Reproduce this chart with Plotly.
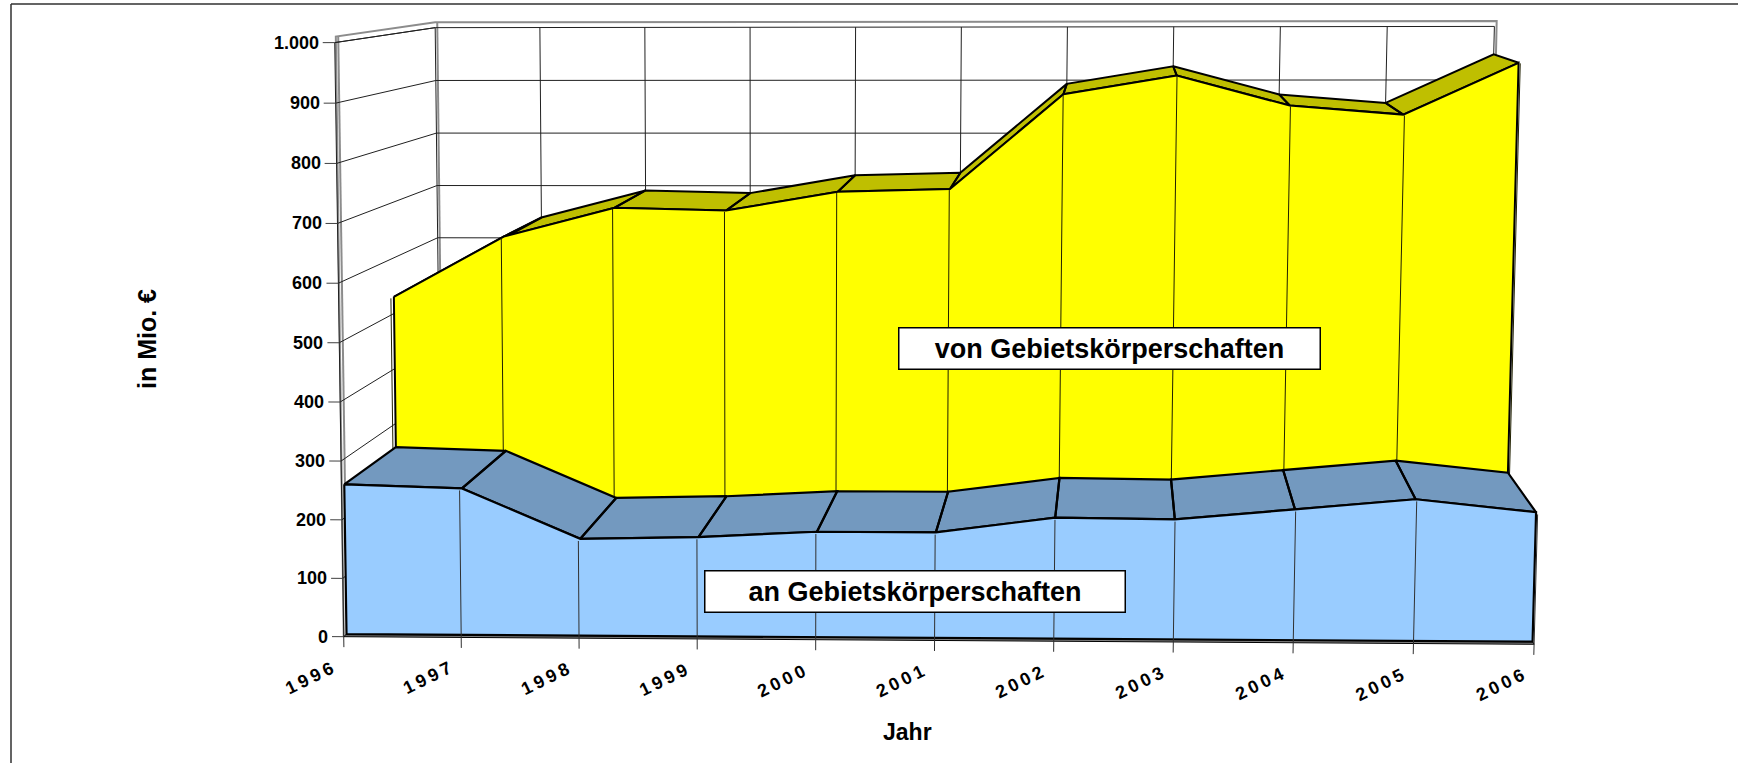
import numpy as np
import plotly.graph_objects as go

years = [1996, 1997, 1998, 1999, 2000, 2001, 2002, 2003, 2004, 2005, 2006]
an_values = [257, 251, 166, 170, 180, 180, 206, 204, 222, 240, 219]
von_values = [530, 639, 691, 686, 720, 725, 893, 926, 873, 857, 948]
value_ticks = [0, 100, 200, 300, 400, 500, 600, 700, 800, 900, 1000]
value_tick_labels = ["0", "100", "200", "300", "400", "500", "600", "700", "800", "900", "1.000"]
name_an = "an Gebietskörperschaften"
name_von = "von Gebietskörperschaften"
title_x = "Jahr"
title_y = "in Mio. €"

W, H = 1738, 763
FONT = "Liberation Sans"

# Perspective camera of the 3D box: (year fraction, value/1000, depth) -> page pixels
box_corners = [
    ((0, 0, 0), (343, 635)), ((1, 0, 0), (1533, 647)),
    ((0, 1, 0), (336, 43)), ((1, 1, 0), (1551, 40)),
    ((0, 0, 1), (442, 549)), ((1, 0, 1), (1482, 550)),
    ((0, 1, 1), (434, 27)), ((1, 1, 1), (1494, 28)),
]
rows = []
for (a, b, c), (px, py) in box_corners:
    rows.append([a, b, c, 1, 0, 0, 0, 0, -px * a, -px * b, -px * c, -px])
    rows.append([0, 0, 0, 0, a, b, c, 1, -py * a, -py * b, -py * c, -py])
CAM = np.linalg.svd(np.array(rows, float))[2][-1].reshape(3, 4)


def proj(year_frac, value, depth):
    p = CAM @ np.array([year_frac, value / 1000.0, depth, 1.0])
    return p[0] / p[2], p[1] / p[2]


D_FRONT, D_AN, D_MID, D_VON = 0.0, 0.025, 0.52, 1.0
n = len(years)
T = [(y - years[0]) / (years[-1] - years[0]) for y in years]


def poly_trace(polys, fill, lw=2, lc="black", name=None):
    xs, ys = [], []
    for poly in polys:
        pts = [proj(*p) for p in poly]
        pts.append(pts[0])
        xs += [p[0] for p in pts] + [None]
        ys += [p[1] for p in pts] + [None]
    return go.Scatter(x=xs, y=ys, mode="lines", fill="toself", fillcolor=fill,
                      line=dict(color=lc, width=lw), hoverinfo="skip", name=name or "")


def line_trace(lines, color, lw=1):
    xs, ys = [], []
    for line in lines:
        pts = [proj(*p) for p in line]
        xs += [p[0] for p in pts] + [None]
        ys += [p[1] for p in pts] + [None]
    return go.Scatter(x=xs, y=ys, mode="lines", line=dict(color=color, width=lw), hoverinfo="skip")


traces = []
GRID = "#202020"
WALL = "#8c8c8c"

# outer wall frame (grey, offset from the gridlines)
traces.append(line_trace([
    [(0, 0, 0), (0.001, 1010, 0), (0, 1010, 1.0), (1.002, 1010, 1.0), (1.004, 0, 1.0)],
    [(0.002, 1010, 1.0), (0.002, 0, 1.0)],
    [(0.003, 1010, 0), (0.003, 0, 0)],
], WALL, 2))

# side and back wall gridlines
traces.append(line_trace(
    [[(0, v, 0), (0, v, 1), (1, v, 1)] for v in value_ticks if v > 0]
    + [[(t, 0, 1), (t, 1000, 1)] for t in T]
    + [[(0, 0, 0), (0, 1000, 0), (0, 1000, 1)]],
    GRID, 1))

# value axis tick marks
traces.append(line_trace([[(-0.01, v, 0), (0, v, 0)] for v in value_ticks], "#404040", 1))

# "von" series: top surface, front face, drop lines
traces.append(poly_trace(
    [[(T[i], von_values[i], D_MID), (T[i + 1], von_values[i + 1], D_MID),
      (T[i + 1], von_values[i + 1], D_VON), (T[i], von_values[i], D_VON)] for i in range(n - 1)],
    "#BFBF00", 2))
traces.append(poly_trace(
    [[(T[i], von_values[i], D_MID) for i in range(n)] + [(1, 0, D_MID), (0, 0, D_MID)]],
    "#FFFF00", 2, name=name_von))
traces.append(line_trace(
    [[(T[i], von_values[i], D_MID - 0.03), (T[i], an_values[i], D_MID - 0.03)] for i in range(n)],
    "#202000", 1))

# floor strip in front of the "an" series
traces.append(poly_trace([[(0, 0, D_FRONT), (1, 0, D_FRONT), (1, 0, D_AN), (0, 0, D_AN)]], "#808080", 1))

# "an" series: top surface, front face, drop lines and x ticks
traces.append(poly_trace(
    [[(T[i], an_values[i], D_AN), (T[i + 1], an_values[i + 1], D_AN),
      (T[i + 1], an_values[i + 1], D_MID), (T[i], an_values[i], D_MID)] for i in range(n - 1)],
    "#7399BF", 2.2))
traces.append(poly_trace(
    [[(T[i], an_values[i], D_AN) for i in range(n)] + [(1, 0, D_AN), (0, 0, D_AN)]],
    "#99CCFF", 2.2, name=name_an))
traces.append(line_trace([[(T[i], an_values[i], D_FRONT), (T[i], -18, D_FRONT)] for i in range(1, n)] + [[(0, 0, D_FRONT), (0, -18, D_FRONT)]], "#303030", 1))

fig = go.Figure(traces)

ann = []
for v, lab in zip(value_ticks, value_tick_labels):
    x, y = proj(-0.01, v, 0)
    ann.append(dict(x=x - 2, y=y, text=f"<b>{lab}</b>", xanchor="right", yanchor="middle",
                    showarrow=False, font=dict(family=FONT, size=18, color="black")))
for t, yr in zip(T, years):
    x, y = proj(t, 0, 0)
    ann.append(dict(x=x - 34, y=y + 41, text="<b>" + "\u2009".join(str(yr)) + "</b>", textangle=-26,
                    xanchor="center", yanchor="middle", showarrow=False,
                    font=dict(family=FONT, size=18, color="black")))
ann.append(dict(x=907, y=732, text=f"<b>{title_x}</b>", showarrow=False,
                font=dict(family=FONT, size=23, color="black")))
ann.append(dict(x=147, y=339, text=f"<b>{title_y}</b>", textangle=-90, showarrow=False,
                font=dict(family=FONT, size=25, color="black")))
ann.append(dict(x=1109, y=348.5, width=418, height=38, text=f"<b>{name_von}</b>", showarrow=False,
                bgcolor="white", bordercolor="black", borderwidth=1.5, align="center", valign="middle",
                font=dict(family=FONT, size=27, color="black")))
ann.append(dict(x=914.5, y=591.5, width=417, height=38, text=f"<b>{name_an}</b>", showarrow=False,
                bgcolor="white", bordercolor="black", borderwidth=1.5, align="center", valign="middle",
                font=dict(family=FONT, size=27, color="black")))

fig.update_layout(
    width=W, height=H, autosize=False, showlegend=False,
    margin=dict(l=0, r=0, t=0, b=0), paper_bgcolor="white", plot_bgcolor="white",
    xaxis=dict(range=[0, W], visible=False, fixedrange=True),
    yaxis=dict(range=[H, 0], visible=False, fixedrange=True),
    annotations=ann,
    shapes=[
        dict(type="line", xref="x", yref="y", x0=11, x1=11, y0=4, y1=H, line=dict(color="#303030", width=1.5)),
        dict(type="line", xref="x", yref="y", x0=11, x1=W, y0=4, y1=4, line=dict(color="#303030", width=1.5)),
    ],
)
fig.write_html("out.html", config=dict(displayModeBar=False),
               post_script="document.body.style.margin='0';document.body.style.overflow='hidden';")
